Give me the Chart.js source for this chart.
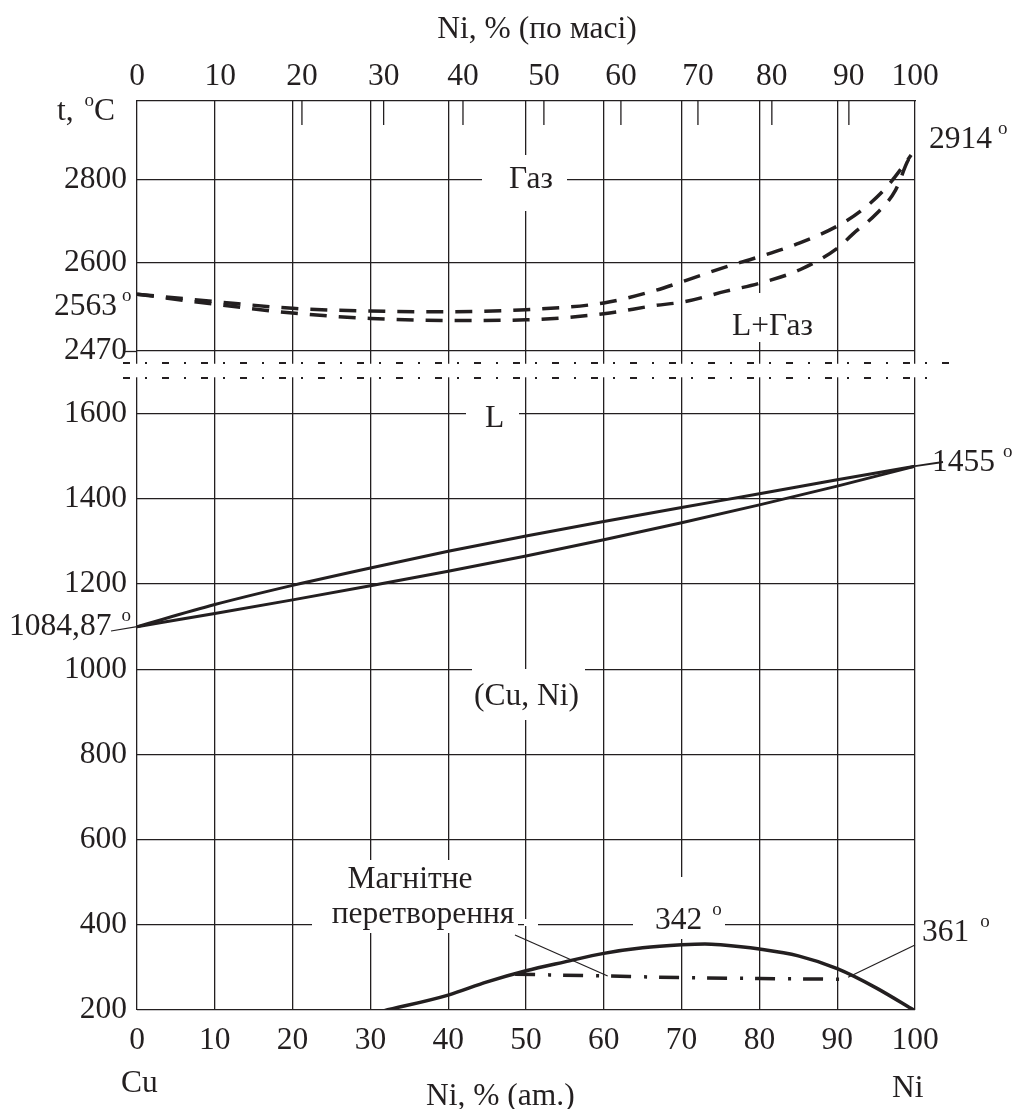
<!DOCTYPE html>
<html lang="uk">
<head>
<meta charset="utf-8">
<title>Cu–Ni</title>
<script src="https://cdn.jsdelivr.net/npm/chart.js@4.4.1/dist/chart.umd.min.js"></script>
<style>
html,body{margin:0;padding:0;background:#fff;}
#wrap{position:relative;width:1016px;height:1109px;}
canvas{display:block;}
</style>
</head>
<body>
<div id="wrap"><canvas id="c" width="1016" height="1109"></canvas></div>
<script>
// ---------- data (Ni, at.% ; temperature, °C) ----------
const atPercent = [0, 10, 20, 30, 40, 50, 60, 70, 80, 90, 100];
const liquidus  = [1100, 1152, 1197, 1238, 1277, 1313, 1347, 1380, 1412, 1445, 1477];
const solidus   = [1100, 1131, 1163, 1196, 1230, 1266, 1304, 1344, 1386, 1430, 1477];

const gasUpperX = [0, 10, 20, 30, 40, 50, 60, 66.5, 70.5, 75.6, 80, 85.2, 90, 93, 96, 98.5, 99.5];
const gasUpperT = [2554, 2543, 2533, 2529, 2528, 2531, 2541, 2559, 2574, 2594, 2615, 2648, 2688, 2724, 2774, 2832, 2858];
const gasLowerX = [0, 10, 20, 30, 40, 50, 60, 66.5, 70.5, 75.6, 80, 85.2, 90, 92, 95, 97.5, 99, 99.5];
const gasLowerT = [2554, 2539, 2526, 2518, 2515, 2516, 2525, 2537, 2543, 2558, 2570, 2590, 2635, 2669, 2717, 2774, 2841, 2858];

const curieX = [31.7, 40, 45, 50, 55, 60, 65, 70, 73, 75, 80, 85, 90, 95, 100];
const curieT = [198, 235, 266, 292, 313, 333, 346, 353, 355, 353, 343, 327, 297, 252, 198];

const magnetX = [48.6, 60, 70, 80, 91];
const magnetT = [284, 280, 276, 274, 272];

const xTickValues = [0, 10, 20, 30, 40, 50, 60, 70, 80, 90, 100];
const yTickValues = [200, 400, 600, 800, 1000, 1200, 1400, 1600, 2470, 2600, 2800];
// mass-% scale on top, positioned in at.%
const topTickAt     = [0, 10.7, 21.2, 31.7, 41.9, 52.3, 62.2, 72.1, 81.6, 91.5, 100];
const topTickLabels = ['0', '10', '20', '30', '40', '50', '60', '70', '80', '90', '100'];

// broken temperature axis: [value, fraction of plot height from bottom]
const yAnchors = [[200, 0], [1684, 0.6953], [2470, 0.7250], [2600, 0.8218], [2987, 1]];
const LOWER_TOP = 1684;

// ---------- style ----------
const INK = '#231f20';
const FONT = '"Liberation Serif", "Times New Roman", serif';
const FS = 31.5;
Chart.defaults.font.family = FONT;
Chart.defaults.font.size = FS;
Chart.defaults.color = INK;

class BrokenScale extends Chart.LinearScale {
  static id = 'broken';
  buildTicks() {
    this.start = this.min; this.end = this.max;
    return yTickValues.map(v => ({ value: v }));
  }
  _frac(v) {
    const a = yAnchors; let i = 0;
    while (i < a.length - 2 && v > a[i + 1][0]) i++;
    const [v0, f0] = a[i], [v1, f1] = a[i + 1];
    return f0 + (v - v0) / (v1 - v0) * (f1 - f0);
  }
  getPixelForValue(v) {
    return this.bottom - this._frac(v) * (this.bottom - this.top);
  }
  getValueForPixel(p) {
    const f = (this.bottom - p) / (this.bottom - this.top);
    const a = yAnchors; let i = 0;
    while (i < a.length - 2 && f > a[i + 1][1]) i++;
    const [v0, f0] = a[i], [v1, f1] = a[i + 1];
    return v0 + (f - f0) / (f1 - f0) * (v1 - v0);
  }
}
Chart.register(BrokenScale);

const toXY = (xs, ys) => xs.map((x, i) => ({ x, y: ys[i] }));

// ---------- text annotations (pixel placement) ----------
const labels = [
  { parts: [['Ni, % (по масі)']], x: 537, y: 38, align: 'center' },
  { parts: [['t, '], ['o', 1, 3], ['C']], x: 57, y: 120 },
  { parts: [['2563'], ['o', 1, 5]], x: 54, y: 315 },
  { parts: [['2914'], ['o', 1, 6]], x: 929, y: 148 },
  { parts: [['Газ']], x: 531, y: 188, align: 'center', box: [482, 155, 567, 211] },
  { parts: [['L+Газ']], x: 732, y: 335, box: [727, 293, 822, 342] },
  { parts: [['L']], x: 485, y: 427, box: [466, 400, 519, 435] },
  { parts: [['1455'], ['o', 1, 8]], x: 932, y: 471 },
  { parts: [['1084,87'], ['o', 1, 10]], x: 9, y: 635 },
  { parts: [['(Cu, Ni)']], x: 474, y: 705, box: [472, 669, 585, 720] },
  { parts: [['Магнітне']], x: 410, y: 888, align: 'center', box: [312, 860, 518, 933] },
  { parts: [['перетворення']], x: 423, y: 923, align: 'center', box: [524, 919, 538, 926] },
  { parts: [['342'], ['o', 1, 10]], x: 655, y: 929, box: [633, 877, 725, 939] },
  { parts: [['361'], ['o', 1, 11]], x: 922, y: 941 },
  { parts: [['Cu']], x: 121, y: 1092 },
  { parts: [['Ni, % (am.)']], x: 426, y: 1105 },
  { parts: [['Ni']], x: 892, y: 1097 }
];
// thin leader lines: from a pixel point to a data point
const leaders = [
  { from: [111, 631], to: [0, 1100], w: 1.2 },
  { from: [515, 935], to: [60.5, 280], w: 1.2 },
  { from: [915, 945], to: [91.4, 277], w: 1.2 },
  { from: [943, 462], to: [100, 1477], w: 1.8 }
];

const MAIN = FS + 'px ' + FONT, SUP = '19px ' + FONT;
function drawParts(ctx, L) {
  let w = 0;
  L.parts.forEach(p => { ctx.font = p[1] ? SUP : MAIN; w += (p[2] || 0) + ctx.measureText(p[0]).width; });
  let x = L.align === 'center' ? L.x - w / 2 : L.x;
  L.parts.forEach(p => {
    ctx.font = p[1] ? SUP : MAIN;
    x += p[2] || 0;
    ctx.fillText(p[0], x, p[1] ? L.y - 14 : L.y);
    x += ctx.measureText(p[0]).width;
  });
}

const decor = {
  id: 'decor',
  beforeDatasetsDraw(chart) {
    const { ctx, chartArea: a, scales: { y, xTop } } = chart;
    const yUp = y.getPixelForValue(2470);
    const yLow = y.getPixelForValue(LOWER_TOP);
    ctx.save();
    // gap between the two parts of the diagram
    ctx.fillStyle = '#fff';
    ctx.fillRect(a.left - 30, yUp + 12.8, a.right - a.left + 60, yLow - yUp - 13.5);
    ctx.strokeStyle = INK;
    const seg = (x0, y0, x1, y1) => { ctx.beginPath(); ctx.moveTo(x0, y0); ctx.lineTo(x1, y1); ctx.stroke(); };
    ctx.lineWidth = 2;
    ctx.setLineDash([7, 15, 2, 15]);
    seg(a.left - 14, yUp + 12, a.right + 35, yUp + 12);
    seg(a.left - 14, yLow, a.right + 22, yLow);
    ctx.setLineDash([]);
    ctx.lineWidth = 1.3;
    seg(a.left - 14, Math.round(yUp) + 0.5, a.left, Math.round(yUp) + 0.5);
    // inward ticks of the mass-% scale
    for (let i = 2; i <= 9; i++) {
      const px = xTop.getPixelForValue(topTickAt[i]);
      seg(px, a.top, px, a.top + 24);
    }
    // label boxes + text
    labels.forEach(L => {
      if (L.box) { ctx.fillStyle = '#fff'; const b = L.box; ctx.fillRect(b[0], b[1], b[2] - b[0], b[3] - b[1]); }
    });
    ctx.fillStyle = INK;
    ctx.textBaseline = 'alphabetic';
    ctx.textAlign = 'left';
    labels.forEach(L => drawParts(ctx, L));
    ctx.restore();
  },
  afterDatasetsDraw(chart) {
    const { ctx, scales: { x, y } } = chart;
    ctx.save();
    ctx.strokeStyle = INK;
    leaders.forEach(l => {
      ctx.lineWidth = l.w;
      ctx.beginPath();
      ctx.moveTo(l.from[0], l.from[1]);
      ctx.lineTo(x.getPixelForValue(l.to[0]), y.getPixelForValue(l.to[1]));
      ctx.stroke();
    });
    ctx.restore();
  }
};

const lineDs = (data, extra) => Object.assign({
  data, borderColor: INK, borderWidth: 3, pointRadius: 0, fill: false,
  cubicInterpolationMode: 'monotone', xAxisID: 'x', yAxisID: 'y'
}, extra);

new Chart(document.getElementById('c'), {
  type: 'line',
  data: {
    datasets: [
      lineDs(toXY(atPercent, liquidus), {}),
      lineDs(toXY(atPercent, solidus), {}),
      lineDs(toXY(gasUpperX, gasUpperT), { borderWidth: 3.5, borderDash: [17, 12] }),
      lineDs(toXY(gasLowerX, gasLowerT), { borderWidth: 3.5, borderDash: [17, 12] }),
      lineDs(toXY(curieX, curieT), { borderWidth: 3.5 }),
      lineDs(toXY(magnetX, magnetT), { borderWidth: 3.5, borderDash: [20, 13, 3, 12] })
    ]
  },
  options: {
    responsive: false,
    animation: false,
    devicePixelRatio: 1,
    layout: { padding: { left: 0, right: 101, top: 0, bottom: 0 } },
    plugins: { legend: { display: false }, tooltip: { enabled: false } },
    scales: {
      x: {
        type: 'linear', position: 'bottom', min: 0, max: 100,
        afterBuildTicks: s => { s.ticks = xTickValues.map(v => ({ value: v })); },
        ticks: { callback: v => String(v), padding: 12, autoSkip: false, maxRotation: 0 },
        grid: { color: INK, lineWidth: 1.3, drawTicks: false },
        border: { display: false },
        afterFit: s => { s.height = 99; }
      },
      xTop: {
        type: 'linear', position: 'top', min: 0, max: 100,
        afterBuildTicks: s => { s.ticks = topTickAt.map(v => ({ value: v })); },
        ticks: { callback: (v, i) => topTickLabels[i], padding: 5, autoSkip: false, maxRotation: 0 },
        grid: { display: false, drawTicks: false },
        border: { display: true, color: INK, width: 1.3 },
        afterFit: s => { s.height = 101; }
      },
      y: {
        type: 'broken', position: 'left', min: 200, max: 2987,
        ticks: { callback: v => String(v), padding: 10, autoSkip: false },
        grid: { color: INK, lineWidth: 1.3, drawTicks: false },
        border: { display: false },
        afterFit: s => { s.width = 137; }
      }
    }
  },
  plugins: [decor]
});
</script>
</body>
</html>
